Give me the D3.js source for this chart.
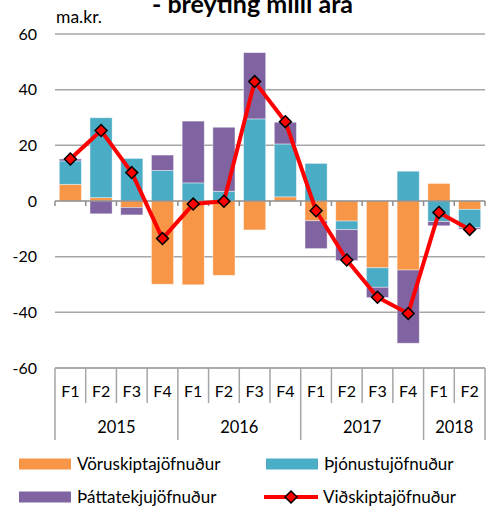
<!DOCTYPE html>
<html>
<head>
<meta charset="utf-8">
<script src="https://cdn.jsdelivr.net/npm/d3@7"></script>
<style>
  body { margin: 0; background: #fff; }
  svg { font-family: Lato, "Open Sans", sans-serif; }
</style>
</head>
<body>
<svg width="486" height="507"></svg>
<script>
// quarters and years
var quarters = ["F1","F2","F3","F4","F1","F2","F3","F4","F1","F2","F3","F4","F1","F2"];
var years = [
  {label: "2015", start: 0, end: 4},
  {label: "2016", start: 4, end: 8},
  {label: "2017", start: 8, end: 12},
  {label: "2018", start: 12, end: 14}
];

// series values, ma.kr.
var voruskipti = [6.0, 1.2, -2.3, -29.9, -30.1, -26.7, -10.4, 1.5, -7.1, -7.2, -24.0, -24.8, 6.3, -3.0];
var thjonusta  = [8.4, 28.7, 15.3, 11.0, 6.5, 3.5, 29.5, 19.0, 13.5, -3.1, -7.0, 10.7, -7.4, -6.6];
var thattatekjur = [0.7, -4.6, -2.7, 5.5, 22.2, 23.0, 23.8, 7.8, -10.0, -11.1, -3.7, -26.3, -1.5, -0.5];
var vidskipti  = [15.1, 25.3, 10.2, -13.5, -1.1, -0.1, 42.9, 28.5, -3.5, -21.2, -34.6, -40.4, -4.1, -10.2];

var yTicks = [-60, -40, -20, 0, 20, 40, 60];

var seriesNames = ["Vöruskiptajöfnuður", "Þjónustujöfnuður", "Þáttatekjujöfnuður"];
var colors = ["#F79646", "#4BACC6", "#8064A2"];

var rows = quarters.map(function(q, i) {
  return {i: i, a: voruskipti[i], b: thjonusta[i], c: thattatekjur[i]};
});

var svg = d3.select("svg");

var plotL = 55, plotR = 485, plotT = 34, plotB = 368;

var x = d3.scaleBand()
  .domain(d3.range(quarters.length))
  .range([plotL, plotR])
  .paddingInner(0.28)
  .paddingOuter(0.14);

var y = d3.scaleLinear().domain([-60, 60]).range([plotB, plotT]);

// category slot edges
var step = (plotR - plotL) / quarters.length;
function edge(k) { return plotL + k * step; }

// shrink/grow a text so it spans the given width
function fitText(sel, width) {
  sel.each(function() {
    var t = d3.select(this);
    var fs = parseFloat(t.attr("font-size"));
    var w = this.getComputedTextLength();
    if (w > 0) t.attr("font-size", (fs * width / w).toFixed(2));
  });
}

// gridlines
svg.append("g").selectAll("line")
  .data(yTicks.filter(function(t) { return t !== 0; }))
  .enter().append("line")
  .attr("x1", plotL).attr("x2", plotR)
  .attr("y1", function(d) { return y(d); })
  .attr("y2", function(d) { return y(d); })
  .attr("stroke", "#a6a6a6")
  .attr("stroke-width", 1.5);

// y tick labels
svg.append("g").selectAll("text")
  .data(yTicks)
  .enter().append("text")
  .attr("x", 37)
  .attr("y", function(d) { return y(d) + 5.5; })
  .attr("text-anchor", "end")
  .attr("font-size", 16)
  .attr("fill", "#000")
  .text(function(d) { return d; });

// stacked bars
var stack = d3.stack()
  .keys(["a", "b", "c"])
  .offset(d3.stackOffsetDiverging);
var layers = stack(rows);

svg.append("g").selectAll("g")
  .data(layers)
  .enter().append("g")
  .attr("fill", function(d, k) { return colors[k]; })
  .selectAll("rect")
  .data(function(d) { return d; })
  .enter().append("rect")
  .attr("x", function(d) { return x(d.data.i); })
  .attr("width", x.bandwidth())
  .attr("y", function(d) { return y(Math.max(d[0], d[1])); })
  .attr("height", function(d) { return Math.abs(y(d[0]) - y(d[1])); })
  .attr("stroke", "#fff")
  .attr("stroke-opacity", 0.5)
  .attr("stroke-width", 0.8);

// zero axis with ticks
var axis0 = svg.append("g");
axis0.append("line")
  .attr("x1", plotL).attr("x2", plotR)
  .attr("y1", y(0)).attr("y2", y(0))
  .attr("stroke", "#8c8c8c").attr("stroke-width", 1.5);
axis0.selectAll("line.tick")
  .data(d3.range(quarters.length + 1))
  .enter().append("line")
  .attr("class", "tick")
  .attr("x1", function(k) { return edge(k); })
  .attr("x2", function(k) { return edge(k); })
  .attr("y1", y(0)).attr("y2", y(0) + 5)
  .attr("stroke", "#8c8c8c").attr("stroke-width", 1.5);

// bottom category axis
var cat = svg.append("g");
cat.append("line")
  .attr("x1", plotL).attr("x2", plotR)
  .attr("y1", plotB).attr("y2", plotB)
  .attr("stroke", "#a6a6a6").attr("stroke-width", 1.5);
cat.selectAll("line.q")
  .data(d3.range(quarters.length + 1))
  .enter().append("line")
  .attr("class", "q")
  .attr("x1", function(k) { return edge(k); })
  .attr("x2", function(k) { return edge(k); })
  .attr("y1", plotB)
  .attr("y2", function(k) {
    var isYear = years.some(function(yr) { return yr.start === k || yr.end === k; });
    return isYear ? 440 : 403;
  })
  .attr("stroke", "#a6a6a6").attr("stroke-width", 1.5);
cat.selectAll("text.q")
  .data(quarters)
  .enter().append("text")
  .attr("class", "q")
  .attr("x", function(d, i) { return edge(i) + step / 2; })
  .attr("y", 397)
  .attr("text-anchor", "middle")
  .attr("font-size", 16)
  .text(function(d) { return d; });
cat.selectAll("text.yr")
  .data(years)
  .enter().append("text")
  .attr("class", "yr")
  .attr("x", function(d) { return (edge(d.start) + edge(d.end)) / 2; })
  .attr("y", 433)
  .attr("text-anchor", "middle")
  .attr("font-size", 16.5)
  .text(function(d) { return d.label; });

// line series
var cx = function(i) { return x(i) + x.bandwidth() / 2; };
svg.append("path")
  .datum(vidskipti)
  .attr("fill", "none")
  .attr("stroke", "#ff0000")
  .attr("stroke-width", 4)
  .attr("stroke-linejoin", "round")
  .attr("d", d3.line()
    .x(function(d, i) { return cx(i); })
    .y(function(d) { return y(d); }));

var diamond = d3.symbol().type(d3.symbolDiamond2).size(90);
svg.append("g").selectAll("path")
  .data(vidskipti)
  .enter().append("path")
  .attr("d", diamond)
  .attr("transform", function(d, i) { return "translate(" + cx(i) + "," + y(d) + ")"; })
  .attr("fill", "#ff0000")
  .attr("stroke", "#000")
  .attr("stroke-width", 1.5);

// title (cut at the top edge, as in the source) and unit
svg.append("text")
  .attr("x", 252.5).attr("y", 13)
  .attr("text-anchor", "middle")
  .attr("font-size", 20)
  .attr("font-weight", "bold")
  .text("- breyting milli ára")
  .call(fitText, 201);
svg.append("text")
  .attr("x", 56).attr("y", 23)
  .attr("font-size", 15)
  .text("ma.kr.")
  .call(fitText, 46);

// legend
var legend = [
  {name: seriesNames[0], color: colors[0], x: 19, y: 464, line: false},
  {name: seriesNames[1], color: colors[1], x: 266, y: 464, line: false},
  {name: seriesNames[2], color: colors[2], x: 19, y: 497, line: false},
  {name: "Viðskiptajöfnuður", color: "#ff0000", x: 264, y: 497, line: true}
];
var lg = svg.append("g").selectAll("g")
  .data(legend)
  .enter().append("g")
  .attr("transform", function(d) { return "translate(" + d.x + "," + d.y + ")"; });
lg.filter(function(d) { return !d.line; })
  .append("rect")
  .attr("x", 0).attr("y", -5.5)
  .attr("width", 52).attr("height", 11)
  .attr("fill", function(d) { return d.color; });
lg.filter(function(d) { return d.line; })
  .append("line")
  .attr("x1", 0).attr("x2", 54).attr("y1", 0).attr("y2", 0)
  .attr("stroke", "#ff0000").attr("stroke-width", 4);
lg.filter(function(d) { return d.line; })
  .append("path")
  .attr("d", diamond)
  .attr("transform", "translate(27,0)")
  .attr("fill", "#ff0000")
  .attr("stroke", "#000")
  .attr("stroke-width", 1.5);
lg.append("text")
  .attr("x", function(d) { return d.line ? 59 : 58; })
  .attr("y", 6)
  .attr("font-size", 17)
  .text(function(d) { return d.name; });
</script>
</body>
</html>
